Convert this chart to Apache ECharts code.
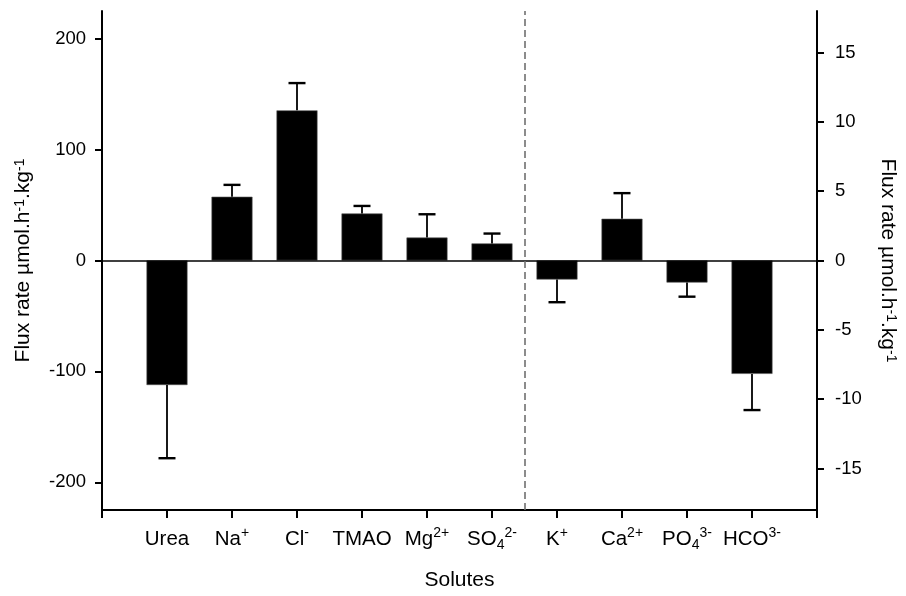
<!DOCTYPE html>
<html>
<head>
<meta charset="utf-8">
<script src="https://cdn.jsdelivr.net/npm/echarts@6/dist/echarts.min.js"></script>
<style>
html,body{margin:0;padding:0;background:#fff;}
#chart{width:906px;height:596px;}
</style>
</head>
<body>
<div id="chart"></div>
<script>
// ---- data ----
var categories = ['Urea', 'Na{sup|+}', 'Cl{sup|-}', 'TMAO', 'Mg{sup|2+}', 'SO{sub|4}{sup|2-}', 'K{sup|+}', 'Ca{sup|2+}', 'PO{sub|4}{sup|3-}', 'HCO{sup|3-}'];
var leftPositions = [1, 2, 3, 4, 5, 6];
var leftValues = [-112.3, 57.5, 135.4, 42.4, 20.7, 15.4];
var leftErrors = [66, 10.7, 24.6, 6.8, 21, 8.9];
var rightPositions = [7, 8, 9, 10];
var rightValues = [-1.37, 3.01, -1.59, -8.18];
var rightErrors = [1.64, 1.85, 1.02, 2.61];
var leftTicks = [-200, -100, 0, 100, 200];
var rightTicks = [-15, -10, -5, 0, 5, 10, 15];
var dividerPosition = 6.5;
var xTitle = 'Solutes';
var yTitle = 'Flux rate µmol.h{sup|-1}.kg{sup|-1}';

var FONT = '"Liberation Sans", Arial, Helvetica, sans-serif';

function pairs(xs, ys, es) {
  return xs.map(function (x, i) { return es ? [x, ys[i], es[i]] : [x, ys[i]]; });
}

function errorRender(params, api) {
  var x = api.value(0), v = api.value(1), e = api.value(2);
  var end = v >= 0 ? v + e : v - e;
  var p0 = api.coord([x, v]);
  var p1 = api.coord([x, end]);
  var half = 8.5;
  return {
    type: 'group',
    children: [
      { type: 'line', shape: { x1: p0[0], y1: p0[1], x2: p1[0], y2: p1[1] }, style: { stroke: '#000', lineWidth: 1.8 } },
      { type: 'line', shape: { x1: p1[0] - half, y1: p1[1], x2: p1[0] + half, y2: p1[1] }, style: { stroke: '#000', lineWidth: 2.4 } }
    ]
  };
}

var richLabel = {
  sup: { fontSize: 14, fontFamily: FONT, color: '#000', verticalAlign: 'top', lineHeight: 14, padding: [0, 0, 9, 0] },
  sub: { fontSize: 14, fontFamily: FONT, color: '#000', verticalAlign: 'bottom', lineHeight: 14, padding: [9, 0, 0, 0] }
};
var richName = {
  sup: { fontSize: 14, fontFamily: FONT, color: '#000', verticalAlign: 'top', lineHeight: 14, padding: [0, 0, 9, 0] }
};

var chart = echarts.init(document.getElementById('chart'), null, { renderer: 'canvas' });
chart.setOption({
  animation: false,
  backgroundColor: '#fff',
  grid: { left: 102, right: 80, top: 11, bottom: 79, containLabel: false },
  xAxis: {
    type: 'value', min: 0, max: 11, interval: 1,
    splitLine: { show: false },
    axisLine: { onZero: false, lineStyle: { color: '#000', width: 2 } },
    axisTick: { length: 8, lineStyle: { color: '#000', width: 2 } },
    axisLabel: {
      margin: 16, color: '#000', fontSize: 20.5, fontFamily: FONT, lineHeight: 26,
      showMinLabel: true, showMaxLabel: true,
      rich: richLabel,
      formatter: function (v) {
        var i = Math.round(v);
        if (i >= 1 && i <= categories.length) return categories[i - 1];
        return '';
      }
    },
    name: xTitle, nameLocation: 'middle', nameGap: 60,
    nameTextStyle: { color: '#000', fontSize: 21, fontFamily: FONT }
  },
  yAxis: [
    {
      type: 'value', min: -225, max: 225, position: 'left',
      splitLine: { show: false },
      axisLine: { show: true, onZero: false, lineStyle: { color: '#000', width: 2 } },
      axisTick: { length: 7, customValues: leftTicks, lineStyle: { color: '#000', width: 2 } },
      axisLabel: { customValues: leftTicks, margin: 16, color: '#000', fontSize: 18.5, fontFamily: FONT },
      name: yTitle, nameLocation: 'middle', nameGap: 68, nameRotate: 90,
      nameTextStyle: { color: '#000', fontSize: 21, fontFamily: FONT, rich: richName }
    },
    {
      type: 'value', min: -18, max: 18, position: 'right',
      splitLine: { show: false },
      axisLine: { show: true, onZero: false, lineStyle: { color: '#000', width: 2 } },
      axisTick: { length: 7, customValues: rightTicks, lineStyle: { color: '#000', width: 2 } },
      axisLabel: { customValues: rightTicks, margin: 18, color: '#000', fontSize: 18.5, fontFamily: FONT },
      name: yTitle, nameLocation: 'middle', nameGap: 60, nameRotate: -90,
      nameTextStyle: { color: '#000', fontSize: 21, fontFamily: FONT, rich: richName }
    }
  ],
  series: [
    {
      type: 'bar', yAxisIndex: 0, barWidth: 41, barGap: '-100%',
      itemStyle: { color: '#000', borderColor: '#555', borderWidth: 0.6 },
      data: pairs(leftPositions, leftValues),
      markLine: {
        silent: true, symbol: 'none', label: { show: false },
        data: [
          { yAxis: 0, lineStyle: { color: '#000', width: 1.6, type: 'solid' } },
          { xAxis: dividerPosition, lineStyle: { color: '#707070', width: 1.6, type: [7, 4] } }
        ]
      }
    },
    {
      type: 'bar', yAxisIndex: 1, barWidth: 41, barGap: '-100%',
      itemStyle: { color: '#000', borderColor: '#555', borderWidth: 0.6 },
      data: pairs(rightPositions, rightValues)
    },
    {
      type: 'custom', yAxisIndex: 0, renderItem: errorRender, z: 3,
      data: pairs(leftPositions, leftValues, leftErrors)
    },
    {
      type: 'custom', yAxisIndex: 1, renderItem: errorRender, z: 3,
      data: pairs(rightPositions, rightValues, rightErrors)
    }
  ]
});
</script>
</body>
</html>
